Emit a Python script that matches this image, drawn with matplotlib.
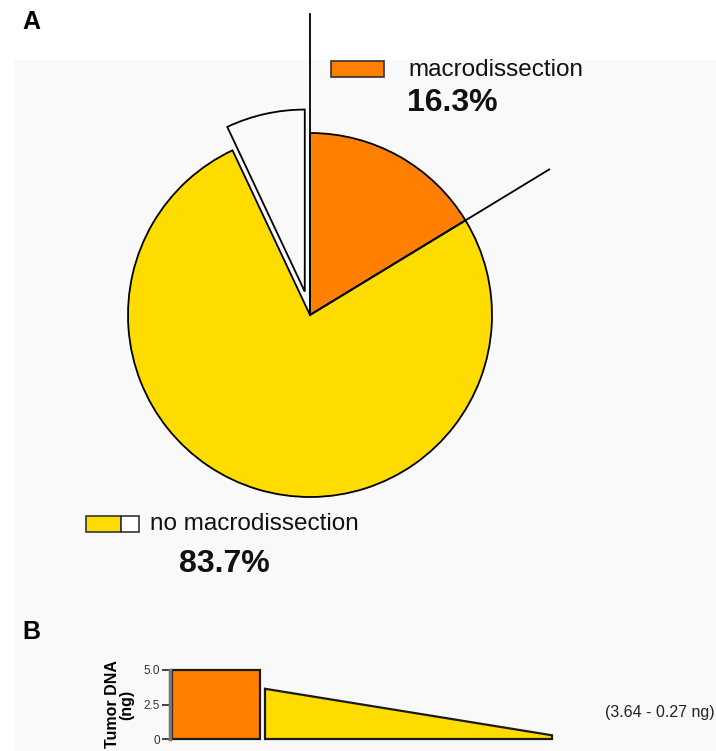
import numpy as np
import matplotlib
matplotlib.use("Agg")
import matplotlib.pyplot as plt
from matplotlib.patches import Rectangle

plt.rcParams['font.family'] = ['Liberation Sans', 'DejaVu Sans']

# data
slice_labels = ['macrodissection', 'no macrodissection (high)', 'no macrodissection (low)']
slice_pct = [16.3, 76.7, 7.0]
slice_colors = ['#FF7F00', '#FFDC00', '#F9F9F9']
macro_pct = 16.3
nomacro_pct = 83.7
dna_macro = 5.0
dna_nomacro = [3.64, 0.27]
yticks = [0, 2.5, 5.0]
ytick_labels = ['0', '2.5', '5.0']

W, H = 716, 751
fig = plt.figure(figsize=(W / 100, H / 100), dpi=100)
fig.patch.set_facecolor('white')
fig.patches.append(Rectangle((14 / W, 0), 1 - 14 / W, (H - 60) / H, transform=fig.transFigure,
                             facecolor='#F9F9F9', edgecolor='none', zorder=-10))

# panel A, axes in pixel units (y up)
ax = fig.add_axes([0, 0, 1, 1])
ax.set_facecolor('none')
cx, cy, r = 310, H - 315, 182
ax.pie(slice_pct, colors=slice_colors, startangle=90, counterclock=False,
       center=(cx, cy), radius=r, explode=[0, 0, 24],
       wedgeprops=dict(edgecolor='black', linewidth=1.3))
ax.set_xlim(0, W)
ax.set_ylim(0, H)
ax.set_aspect('equal')
ax.axis('off')

# leader lines along the macrodissection wedge edges
a0 = np.deg2rad(90)
a1 = np.deg2rad(90 - 360 * macro_pct / 100)
ax.plot([cx, cx + 301 * np.cos(a0)], [cy, cy + 301 * np.sin(a0)], color='black', lw=1.3, zorder=5)
ax.plot([cx, cx + 280 * np.cos(a1)], [cy, cy + 280 * np.sin(a1)], color='black', lw=1.3, zorder=5)

# legend A
ax.add_patch(Rectangle((331, H - 77), 53, 16, facecolor='#FF7F00', edgecolor='#333333', lw=1.2))
ax.text(408, H - 70, 'macrodissection', fontsize=17.5, va='center', ha='left', color='#111111')
ax.text(407, H - 103, f'{macro_pct}%', fontsize=23, fontweight='bold', va='center', ha='left', color='#111111')

ax.add_patch(Rectangle((86, H - 532), 35, 16, facecolor='#FFDC00', edgecolor='#333333', lw=1.2))
ax.add_patch(Rectangle((121, H - 532), 18, 16, facecolor='white', edgecolor='#333333', lw=1.2))
ax.text(150, H - 524, 'no macrodissection', fontsize=17.5, va='center', ha='left', color='#111111')
ax.text(224, H - 564, f'{nomacro_pct}%', fontsize=23, fontweight='bold', va='center', ha='center', color='#111111')

ax.text(22, H - 22, 'A', fontsize=18, fontweight='bold', va='center', ha='left')
ax.text(22, H - 632, 'B', fontsize=18, fontweight='bold', va='center', ha='left')
ax.text(605, H - 712, f'({dna_nomacro[0]} - {dna_nomacro[1]} ng)',
        fontsize=11.5, color='#222222', ha='left', va='center')

# panel B
bx = fig.add_axes([170 / W, (H - 739) / H, (556 - 170) / W, (739 - 670) / H])
bx.set_facecolor('none')
bx.set_xlim(0, 386)
bx.set_ylim(0, 5.0)
bx.bar(2, dna_macro, width=88, align='edge', color='#FF7F00', edgecolor='#1a1a1a', lw=1.6, clip_on=False)
bx.fill([95, 95, 382, 382], [0, dna_nomacro[0], dna_nomacro[1], 0],
        facecolor='#FFDC00', edgecolor='#1a1a1a', lw=1.6, clip_on=False)
for s in ['top', 'right', 'bottom']:
    bx.spines[s].set_visible(False)
bx.spines['left'].set_color('#777777')
bx.spines['left'].set_linewidth(2.5)
bx.set_xticks([])
bx.set_yticks(yticks)
bx.set_yticklabels(ytick_labels, fontsize=8.5, color='#333333',
                   family=['Liberation Sans Narrow', 'Liberation Sans'])
bx.tick_params(axis='y', length=6, width=1.3, color='#333333', pad=1)
bx.set_ylabel('Tumor DNA\n(ng)', fontsize=11.5, fontweight='bold', labelpad=7, linespacing=0.95)

fig.savefig('out.png', dpi=100)
